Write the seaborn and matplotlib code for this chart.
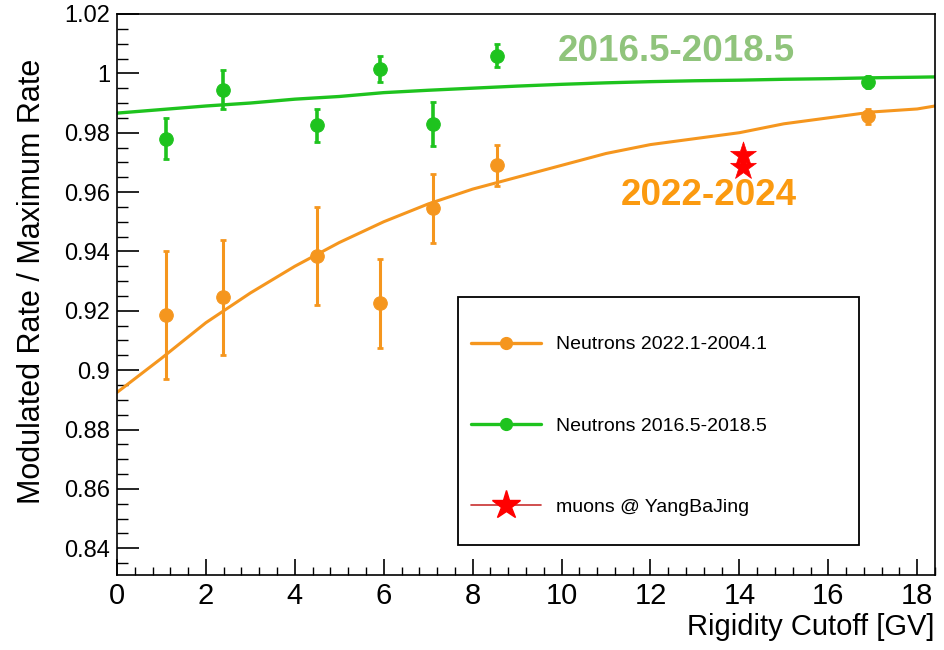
import numpy as np
import pandas as pd
import matplotlib
matplotlib.use("Agg")
import matplotlib.pyplot as plt
from matplotlib.lines import Line2D
from matplotlib.patches import Rectangle
from matplotlib.ticker import MultipleLocator, FuncFormatter
import seaborn as sns

# ---- data ----
cutoff = [1.1, 2.38, 4.49, 5.92, 7.11, 8.54, 16.9]
orange_rate = [0.9185, 0.9245, 0.9385, 0.9225, 0.9545, 0.969, 0.9855]
orange_err = [0.0215, 0.0195, 0.0165, 0.015, 0.0115, 0.0070, 0.0025]
green_rate = [0.978, 0.9945, 0.9825, 1.0015, 0.983, 1.006, 0.997]
green_err = [0.007, 0.0065, 0.0055, 0.0045, 0.0075, 0.0038, 0.002]

fit_x = [0, 1, 2, 3, 4, 5, 6, 7, 8, 9, 10, 11, 12, 13, 14, 15, 16, 17, 18, 18.4]
orange_fit = [0.8925, 0.904, 0.916, 0.926, 0.935, 0.943, 0.950, 0.956, 0.961, 0.965,
              0.969, 0.973, 0.976, 0.978, 0.980, 0.983, 0.985, 0.987, 0.988, 0.989]
green_fit = [0.9866, 0.9878, 0.989, 0.990, 0.9913, 0.9922, 0.9935, 0.9943, 0.995, 0.9957,
             0.9963, 0.9968, 0.9972, 0.9975, 0.9977, 0.998, 0.9982, 0.9985, 0.9987, 0.9988]

muon_x = [14.08, 14.08]
muon_rate = [0.9725, 0.9685]

labels = ["Neutrons 2022.1-2004.1", "Neutrons 2016.5-2018.5", "muons @ YangBaJing"]

ORANGE = "#f5961e"
GREEN = "#1ec31e"
RED = "#ff0000"

sns.set_theme(style="ticks")
plt.rcParams['font.family'] = ['Liberation Sans', 'DejaVu Sans']
plt.rcParams['text.color'] = 'black'

fig = plt.figure(figsize=(9.45, 6.5), dpi=100)
ax = fig.add_axes([0.1238, 0.1154, 0.8656, 0.8631])

fit_df = pd.DataFrame({"x": fit_x, "orange": orange_fit, "green": green_fit})
sns.lineplot(data=fit_df, x="x", y="orange", ax=ax, color=ORANGE, lw=2.2)
sns.lineplot(data=fit_df, x="x", y="green", ax=ax, color=GREEN, lw=2.4)

ax.errorbar(cutoff, orange_rate, yerr=orange_err, fmt="none", ecolor=ORANGE,
            elinewidth=2.2, capsize=2, capthick=2)
ax.errorbar(cutoff, green_rate, yerr=green_err, fmt="none", ecolor=GREEN,
            elinewidth=2.6, capsize=2, capthick=2)
pts = pd.DataFrame({"x": cutoff, "o": orange_rate, "g": green_rate})
sns.scatterplot(data=pts, x="x", y="o", ax=ax, color=ORANGE, s=95, edgecolor=ORANGE, zorder=5)
sns.scatterplot(data=pts, x="x", y="g", ax=ax, color=GREEN, s=95, edgecolor=GREEN, zorder=5)

sns.scatterplot(x=muon_x, y=muon_rate, ax=ax, color=RED, marker="*", s=380,
                edgecolor=RED, linewidth=0.5, zorder=6)

ax.set_xlim(0, 18.4)
ax.set_ylim(0.831, 1.02)
ax.xaxis.set_major_locator(MultipleLocator(2))
ax.xaxis.set_minor_locator(MultipleLocator(0.4))
ax.yaxis.set_major_locator(MultipleLocator(0.02))
ax.yaxis.set_minor_locator(MultipleLocator(0.005))
ax.tick_params(which="both", direction="in", colors="black", labelcolor="black")
ax.tick_params(axis="y", which="major", length=16, width=1.2, labelsize=17, pad=5)
ax.tick_params(axis="y", which="minor", length=8, width=1.0)
ax.tick_params(axis="x", which="major", length=11.5, width=1.2, labelsize=21, pad=5)
ax.tick_params(axis="x", which="minor", length=6, width=1.0)
ax.yaxis.set_major_formatter(FuncFormatter(
    lambda v, p: "%d" % round(v) if abs(v - round(v)) < 1e-9 else ("%.2f" % v).rstrip("0")))
for s in ax.spines.values():
    s.set_linewidth(1.2)
    s.set_color("black")

ax.set_xlabel("Rigidity Cutoff [GV]", fontsize=21, loc="right", labelpad=2, color="black")
ax.set_ylabel("Modulated Rate / Maximum Rate", fontsize=22, color="black")
ax.yaxis.set_label_coords(-0.0856, 0.524)

ax.text((676 - 117) / 818, (575 - 52) / 561, "2016.5-2018.5", transform=ax.transAxes,
        color="#90c47c", fontsize=26.5, fontweight="bold", ha="center", va="center")
ax.text((709 - 117) / 818, (575 - 196) / 561, "2022-2024", transform=ax.transAxes,
        color="#fb9a10", fontsize=26.5, fontweight="bold", ha="center", va="center")

# legend box
ax.add_patch(Rectangle((0.4169, 0.0535), 0.4902, 0.442, transform=ax.transAxes,
                       fill=True, facecolor="white", edgecolor="black", lw=1.3, zorder=7))
handles = [
    Line2D([0], [0], color=ORANGE, lw=2.4, marker="o", markersize=8.5),
    Line2D([0], [0], color=GREEN, lw=2.4, marker="o", markersize=8.5),
    Line2D([0], [0], color="#c83030", lw=1.2, marker="*", markersize=21,
           markerfacecolor=RED, markeredgecolor=RED),
]
leg = ax.legend(handles, labels, loc="center left", bbox_to_anchor=((471 - 117) / 818, 0.266),
                prop={"family": ["Liberation Sans", "DejaVu Sans"], "size": 14},
                frameon=False, labelspacing=3.27, handlelength=3.6, handletextpad=0.77,
                borderpad=0, borderaxespad=0)
leg.set_zorder(8)
for t in leg.get_texts():
    t.set_color("black")

fig.savefig("out.png", dpi=100)
